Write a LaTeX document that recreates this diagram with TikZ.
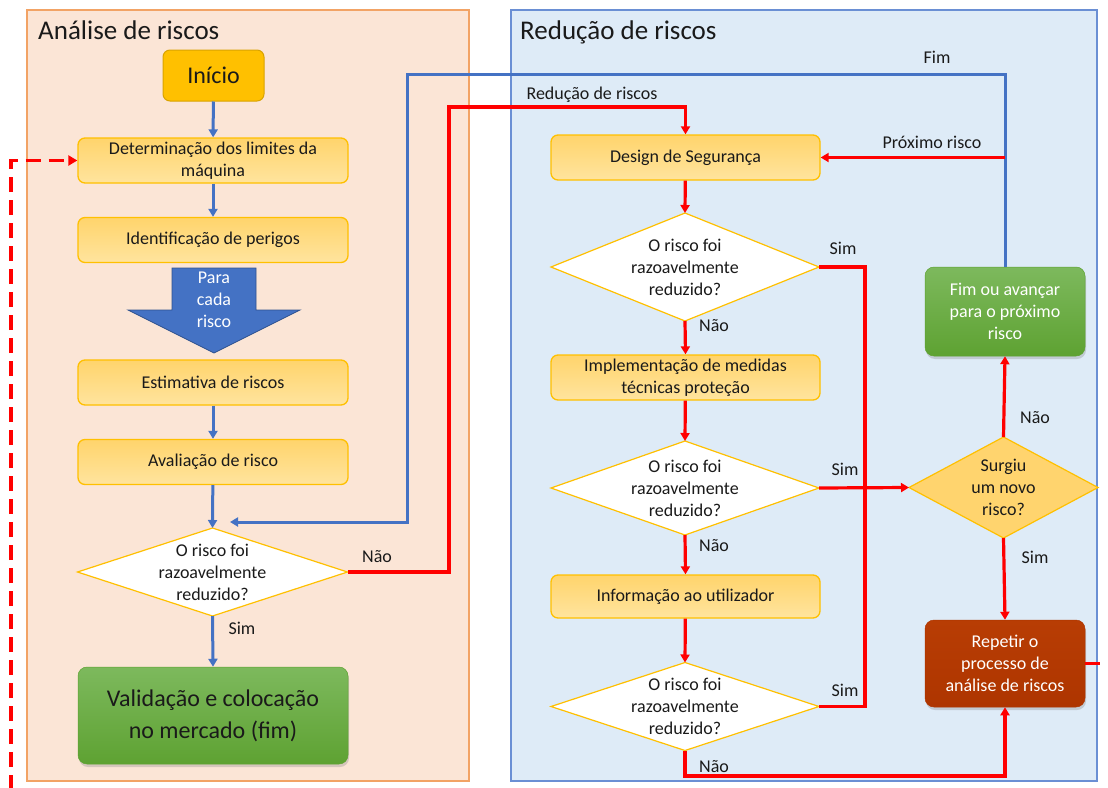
\documentclass[tikz,border=0pt]{standalone}
\usepackage{fontspec}
\setmainfont{Carlito}
\usetikzlibrary{arrows.meta,shapes.geometric,shadows}
\newcommand\fsz[2]{\fontsize{#1}{#2}\selectfont}

\definecolor{peach}{HTML}{FBE5D6}
\definecolor{peachedge}{HTML}{F2A365}
\definecolor{paleblue}{HTML}{DEEBF7}
\definecolor{paleblueedge}{HTML}{6A8FD4}
\definecolor{gold}{HTML}{FFC000}
\definecolor{goldedge}{HTML}{D9A300}
\definecolor{ytop}{HTML}{FFD46C}
\definecolor{ybot}{HTML}{FFE49E}
\definecolor{qfill}{HTML}{FFD46E}
\definecolor{gtop}{HTML}{7DB95D}
\definecolor{gbot}{HTML}{5EA232}
\definecolor{rtop}{HTML}{B83D04}
\definecolor{rbot}{HTML}{AE3500}
\definecolor{flowblue}{HTML}{4472C4}
\definecolor{arrowedge}{HTML}{2F528F}
\definecolor{flowred}{HTML}{FF0000}
\definecolor{ink}{HTML}{1A1A1A}

\tikzset{
  panel/.style={line width=1.6pt},
  ybox/.style={draw=gold, line width=1.3pt, rounded corners=7pt,
    top color=ytop, bottom color=ybot, minimum width=270pt,
    minimum height=45pt, inner sep=2pt, align=center, text=ink,
    font=\fsz{18}{22}},
  gbox/.style={rounded corners=9pt, top color=gtop, bottom color=gbot,
    draw=gbot, line width=0.5pt, align=center, inner sep=2pt,
    drop shadow={opacity=0.3, shadow xshift=1pt, shadow yshift=-3pt}},
  rbox/.style={rounded corners=9pt, top color=rtop, bottom color=rbot,
    draw=rbot, line width=0.5pt, align=center, inner sep=2pt,
    text=white, font=\fsz{18}{22},
    drop shadow={opacity=0.3, shadow xshift=1pt, shadow yshift=-3pt}},
  dec/.style={diamond, draw=gold, line width=1.2pt, fill=white,
    inner sep=0pt, outer sep=0pt, minimum width=270pt},
  dtext/.style={align=center, text=ink, font=\fsz{18}{22}, inner sep=0pt},
  lbl/.style={text=ink, font=\fsz{18}{22}, inner sep=0pt},
  bluearrow/.style={draw=flowblue, line width=3pt,
    -{Triangle[length=8pt, width=9pt]}},
  redarrow/.style={draw=flowred, line width=3.2pt,
    -{Triangle[length=8pt, width=9pt]}},
  redline/.style={draw=flowred, line width=3.2pt},
  reddash/.style={draw=flowred, line width=3.2pt, dash pattern=on 15pt off 8pt},
}

\begin{document}
\begin{tikzpicture}[x=1pt, y=-1pt]
\useasboundingbox (0,0) rectangle (1108,787);
\fill[white] (0,0) rectangle (1108,787);

% the two panels
\draw[panel, draw=peachedge, fill=peach] (27,10) rectangle (469,781);
\draw[panel, draw=paleblueedge, fill=paleblue] (511,10) rectangle (1097,781);
\node[anchor=west, text=ink, font=\fsz{27}{30}, inner sep=0pt] (t1) at (38,30) {Análise de riscos};
\node[anchor=west, text=ink, font=\fsz{27}{30}, inner sep=0pt] (t2) at (520,32) {Redução de riscos};

% risk analysis column
\node[draw=goldedge, fill=gold, line width=1pt, rounded corners=7pt,
  minimum width=101pt, minimum height=51pt, font=\fsz{24}{28}, text=ink]
  (inicio) at (213.5,75.5) {Início};
\node[ybox] (det) at (213,160.5) {Determinação dos limites da\\máquina};
\node[ybox] (ident) at (213,240) {Identificação de perigos};
\fill[flowblue, draw=arrowedge, line width=0.8pt]
  (172,268) -- (256,268) -- (256,310) -- (300,310) -- (214,353)
  -- (128,310) -- (172,310) -- cycle;
\node[align=center, text=white, font=\fsz{18}{22}, inner sep=0pt]
  (para) at (214,300) {Para\\cada\\risco};
\node[ybox] (estim) at (213,382.5) {Estimativa de riscos};
\node[ybox] (aval) at (213,462) {Avaliação de risco};
\node[dec, minimum height=88pt,
  label={[dtext]center:{O risco foi\\razoavelmente\\reduzido?}}]
  (d1) at (212.5,572) {};
\node[gbox, minimum width=270pt, minimum height=97pt, text=ink,
  font=\fsz{24}{32}] (valid) at (213,715.5) {Validação e colocação\\no mercado (fim)};

% risk reduction column
\node[ybox, minimum width=269pt] (design) at (685.5,157.5) {Design de Segurança};
\node[dec, minimum width=268pt, minimum height=108pt,
  label={[dtext]center:{O risco foi\\razoavelmente\\reduzido?}}]
  (d2) at (685,267) {};
\node[ybox, minimum width=269pt] (impl) at (685.5,377.5) {Implementação de medidas\\técnicas proteção};
\node[dec, minimum width=268pt, minimum height=94pt,
  label={[dtext]center:{O risco foi\\razoavelmente\\reduzido?}}]
  (d3) at (685,488) {};
\node[ybox, minimum width=269pt, minimum height=43pt] (info) at (685.5,596.5) {Informação ao utilizador};
\node[dec, minimum width=268pt, minimum height=88pt,
  label={[dtext]center:{O risco foi\\razoavelmente\\reduzido?}}]
  (d4) at (685,706.5) {};

% decision on new risks
\node[diamond, draw=gold, line width=1.2pt, fill=qfill, inner sep=0pt,
  outer sep=0pt, minimum width=189pt, minimum height=101pt,
  label={[dtext]center:{Surgiu\\um novo\\risco?}}]
  (novo) at (1003.5,487.5) {};
\node[gbox, minimum width=160pt, minimum height=89pt, text=white,
  font=\fsz{18}{22}] (fim) at (1005,311.5) {Fim ou avançar\\para o próximo\\risco};
\node[rbox, minimum width=160pt, minimum height=87pt] (rep) at (1005,663.5)
  {Repetir o\\processo de\\análise de riscos};

% blue connectors
\draw[bluearrow] (inicio) -- (det);
\draw[bluearrow] (det) -- (ident);
\draw[bluearrow] (estim) -- (aval);
\draw[bluearrow] (aval) -- (d1.north);
\draw[bluearrow] (d1.south) -- (valid.north);
\coordinate (bTop) at (407,74);
\coordinate (bIn) at (230,522);
\draw[bluearrow] (fim.north) |- (bTop) |- (bIn);

% red connectors
\coordinate (rTop) at (449,107);
\draw[redarrow] (d1.east) -| (rTop) -| (design.north);
\draw[redarrow] (fim.north |- design.east) -- (design.east);
\draw[redarrow] (design) -- (d2.north);
\draw[redarrow] (d2.south) -- (impl.north);
\draw[redarrow] (impl) -- (d3.north);
\draw[redarrow] (d3.south) -- (info.north);
\draw[redarrow] (info) -- (d4.north);
\coordinate (rJoin) at (865,488);
\draw[redline] (d2.east) -| (rJoin);
\draw[redline] (d4.east) -| (rJoin);
\draw[redarrow] (d3.east) -- (novo.west);
\draw[redarrow] (novo.north) -- (fim.south);
\draw[redarrow] (novo.south) -- (rep.north);
\coordinate (rBot) at (685,776);
\draw[redarrow] (d4.south) -- (rBot) -| (rep.south);

% dashed return to the start of the analysis
\coordinate (dOut) at (1110,663.5);
\draw[reddash] (rep.east) -- (dOut);
\coordinate (dBot) at (11,790);
\coordinate (dCorner) at (11,160.5);
\draw[reddash, -{Triangle[length=9pt, width=10pt]}] (dBot) -- (dCorner) -- (det.west);

% connector labels
\node[lbl] (lNao1) at (377,557) {Não};
\node[lbl] (lSim1) at (242,628) {Sim};
\node[lbl] (lRed) at (592,95) {Redução de riscos};
\node[lbl] (lFim) at (937,57) {Fim};
\node[lbl] (lProx) at (932,142) {Próximo risco};
\node[lbl] (lSim2) at (843,248) {Sim};
\node[lbl] (lNao2) at (714,326) {Não};
\node[lbl] (lSim3) at (845,469) {Sim};
\node[lbl] (lNao3) at (714,546) {Não};
\node[lbl] (lSim4) at (845,690) {Sim};
\node[lbl] (lNao4) at (714,767) {Não};
\node[lbl] (lNao5) at (1035,418) {Não};
\node[lbl] (lSim5) at (1035,557) {Sim};
\end{tikzpicture}
\end{document}
